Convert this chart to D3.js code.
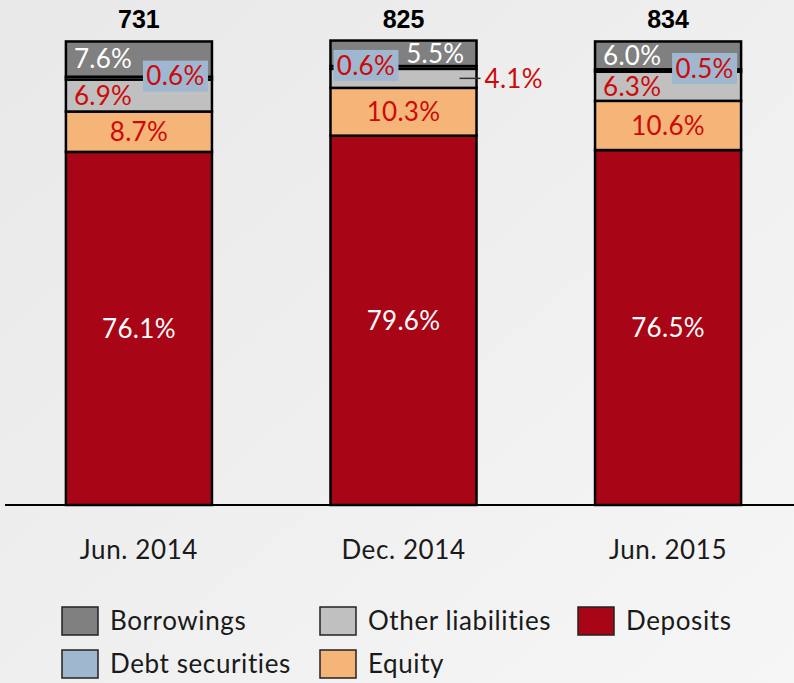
<!DOCTYPE html>
<html>
<head>
<meta charset="utf-8">
<script src="https://cdn.jsdelivr.net/npm/d3@7"></script>
<style>
  body { margin: 0; }
  svg { display: block; font-family: "Lato", "Open Sans", sans-serif; }
</style>
</head>
<body>
<div class="liabChart"></div>
<script>
const categories = ["Jun. 2014", "Dec. 2014", "Jun. 2015"]
const totals = [731, 825, 834]
// stack order, bottom to top
const seriesKeys = ["Deposits", "Equity", "Other liabilities", "Debt securities", "Borrowings"]
const deposits = [76.1, 79.6, 76.5]
const equity = [8.7, 10.3, 10.6]
const otherLiabilities = [6.9, 4.1, 6.3]
const debtSecurities = [0.6, 0.6, 0.5]
const borrowings = [7.6, 5.5, 6.0]
const legendOrder = ["Borrowings", "Other liabilities", "Deposits", "Debt securities", "Equity"]

const width = 794
const height = 683

const colors = {
  "Deposits": "#a80616",
  "Equity": "#f5b478",
  "Other liabilities": "#c0c0c0",
  "Debt securities": "#9fb7cf",
  "Borrowings": "#808080"
}

const data = categories.map((c, i) => ({
  cat: c,
  "Deposits": deposits[i],
  "Equity": equity[i],
  "Other liabilities": otherLiabilities[i],
  "Debt securities": debtSecurities[i],
  "Borrowings": borrowings[i]
}))

const svg = d3.select(".liabChart").append("svg").attr("width", width).attr("height", height)

const defs = svg.append("defs")
const bg = defs.append("linearGradient").attr("id", "bgGrad").attr("x1", "0%").attr("y1", "0%").attr("x2", "100%").attr("y2", "100%")
bg.append("stop").attr("offset", "0%").attr("stop-color", "#e8e8e8")
bg.append("stop").attr("offset", "100%").attr("stop-color", "#f6f6f6")
svg.append("rect").attr("width", width).attr("height", height).attr("fill", "url(#bgGrad)")

const x = d3.scaleBand().domain(categories).range([13, 794]).paddingInner(0.448).paddingOuter(0.2)
const y = d3.scaleLinear().domain([0, 100]).range([505, 41])

const stack = d3.stack().keys(seriesKeys)
const layers = stack(data)

const labelRed = "#cc0a0a"
const fs = 26
const ls = "0.3px"

// segments
svg.selectAll(".layer")
  .data(layers)
  .enter()
  .append("g")
  .attr("class", "layer")
  .attr("fill", d => colors[d.key])
  .selectAll("rect")
  .data(d => d)
  .enter()
  .append("rect")
  .attr("x", d => x(d.data.cat))
  .attr("y", d => y(d[1]))
  .attr("width", x.bandwidth())
  .attr("height", d => y(d[0]) - y(d[1]))
  .attr("stroke", "#000")
  .attr("stroke-width", 2.5)

// axis
const xAxis = d3.axisBottom(x).tickSize(0).tickSizeOuter(0).tickPadding(36)
const axisG = svg.append("g").attr("transform", `translate(0, ${y(0)})`).call(xAxis)
axisG.select(".domain").attr("stroke", "#000").attr("stroke-width", 2).attr("d", "M5,0H794")
axisG.selectAll("text")
  .attr("font-size", 26)
  .attr("letter-spacing", "0.6px")
  .attr("fill", "#1a1a1a")
  .attr("font-family", "Lato, sans-serif")

// totals
svg.selectAll(".total")
  .data(data)
  .enter()
  .append("text")
  .attr("x", d => x(d.cat) + x.bandwidth() / 2)
  .attr("y", 28)
  .attr("text-anchor", "middle")
  .attr("font-size", 25)
  .attr("font-weight", "bold")
  .attr("font-family", "Liberation Sans, Arial, sans-serif")
  .attr("fill", "#000")
  .text((d, i) => totals[i])

const fmt = v => v.toFixed(1) + "%"
const mid = d => (y(d[0]) + y(d[1])) / 2
const layerOf = k => layers.find(l => l.key === k)

// big centred labels
const centred = [["Deposits", "#fff"], ["Equity", labelRed]]
centred.forEach(([k, col]) => {
  svg.append("g").selectAll("text")
    .data(layerOf(k))
    .enter()
    .append("text")
    .attr("x", d => x(d.data.cat) + x.bandwidth() / 2)
    .attr("y", mid)
    .attr("dy", "0.36em")
    .attr("text-anchor", "middle")
    .attr("font-size", fs)
    .attr("letter-spacing", ls)
    .attr("fill", col)
    .text(d => fmt(d[1] - d[0]))
})

// borrowings: left, right, left
svg.append("g").selectAll("text")
  .data(layerOf("Borrowings"))
  .enter()
  .append("text")
  .attr("x", (d, i) => i === 1 ? x(d.data.cat) + x.bandwidth() - 12 : x(d.data.cat) + 8)
  .attr("y", mid)
  .attr("dy", "0.36em")
  .attr("text-anchor", (d, i) => i === 1 ? "end" : "start")
  .attr("font-size", fs)
  .attr("letter-spacing", ls)
  .attr("fill", "#fff")
  .text(d => fmt(d[1] - d[0]))

// other liabilities: inside left, except the thin one goes outside with a leader
const other = svg.append("g")
layerOf("Other liabilities").forEach((d, i) => {
  const bx = x(d.data.cat)
  if (i === 1) {
    other.append("line")
      .attr("x1", bx + x.bandwidth() - 17).attr("x2", bx + x.bandwidth() + 4)
      .attr("y1", mid(d)).attr("y2", mid(d))
      .attr("stroke", "#333").attr("stroke-width", 1.5)
    other.append("text")
      .attr("x", bx + x.bandwidth() + 8).attr("y", mid(d)).attr("dy", "0.36em")
      .attr("font-size", fs).attr("letter-spacing", ls).attr("fill", labelRed)
      .text(fmt(d[1] - d[0]))
  } else {
    other.append("text")
      .attr("x", bx + 8).attr("y", mid(d)).attr("dy", "0.36em")
      .attr("font-size", fs).attr("letter-spacing", ls).attr("fill", labelRed)
      .text(fmt(d[1] - d[0]))
  }
})

// debt securities: boxed labels
const boxW = 65, boxH = 31
const debt = svg.append("g")
layerOf("Debt securities").forEach((d, i) => {
  const bx = x(d.data.cat)
  const left = i === 1 ? bx + 3 : bx + x.bandwidth() - 4 - boxW
  const cy = mid(d) - 2
  debt.append("rect")
    .attr("x", left).attr("y", cy - boxH / 2)
    .attr("width", boxW).attr("height", boxH)
    .attr("fill", colors["Debt securities"])
  debt.append("text")
    .attr("x", left + boxW / 2).attr("y", cy).attr("dy", "0.36em")
    .attr("text-anchor", "middle")
    .attr("font-size", fs).attr("letter-spacing", ls).attr("fill", labelRed)
    .text(fmt(d[1] - d[0]))
})

// legend
const legend = svg.append("g")
const colX = [62, 320, 578]
const rowY = [607, 650]
legendOrder.forEach((k, i) => {
  const g = legend.append("g").attr("transform", `translate(${colX[i % 3]}, ${rowY[Math.floor(i / 3)]})`)
  g.append("rect").attr("width", 36).attr("height", 28).attr("fill", colors[k]).attr("stroke", "#222").attr("stroke-width", 1.5)
  g.append("text").attr("x", 48).attr("y", 14).attr("dy", "0.36em")
    .attr("font-size", 26).attr("letter-spacing", "0.6px").attr("fill", "#1a1a1a").text(k)
})
</script>
</body>
</html>
